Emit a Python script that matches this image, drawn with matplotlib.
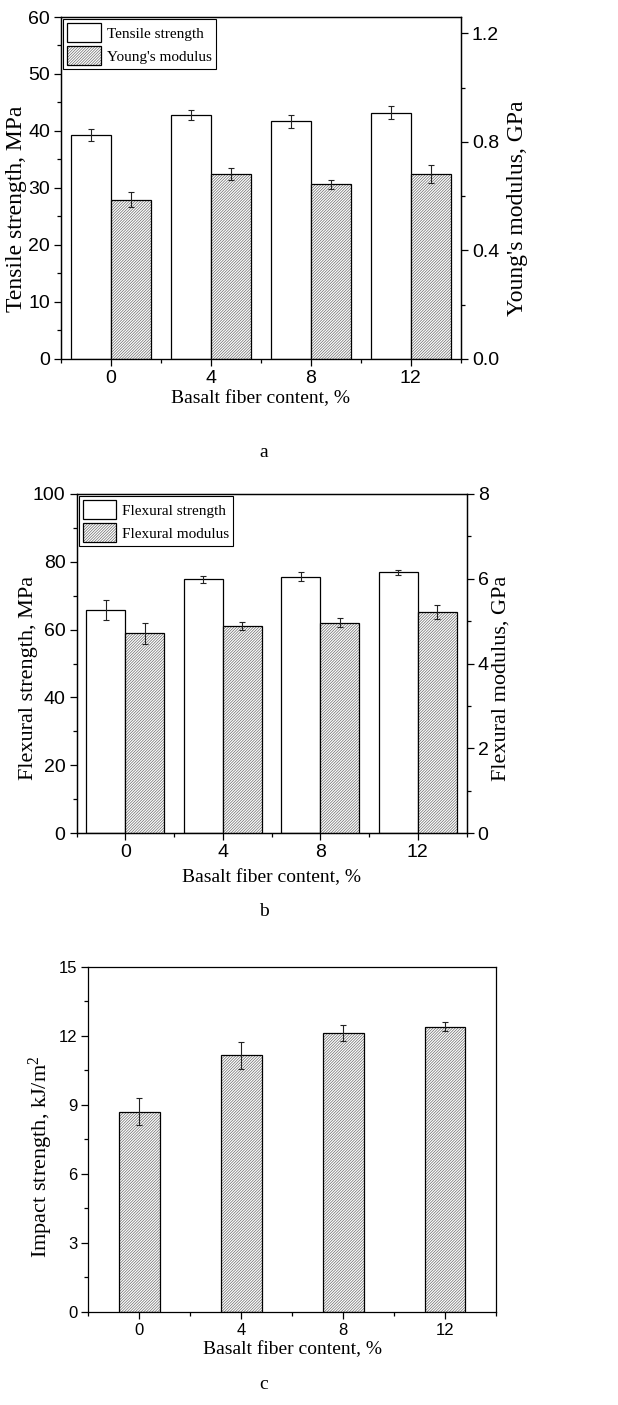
import matplotlib
matplotlib.use('Agg')
import matplotlib.pyplot as plt
from matplotlib.patches import Patch
from matplotlib.ticker import MultipleLocator, FormatStrFormatter

# basalt fiber content, %
fiber = [0, 4, 8, 12]

# panel a
tensile = [39.3, 42.8, 41.7, 43.2]
tensile_err = [1.0, 0.95, 1.1, 1.1]
young = [0.587, 0.681, 0.644, 0.681]
young_err = [0.028, 0.021, 0.017, 0.032]

# panel b
flex_strength = [65.8, 74.8, 75.6, 76.9]
flex_strength_err = [3.0, 1.1, 1.3, 0.7]
flex_modulus = [4.71, 4.89, 4.96, 5.22]
flex_modulus_err = [0.25, 0.10, 0.11, 0.17]

# panel c
impact = [8.7, 11.15, 12.12, 12.4]
impact_err = [0.59, 0.58, 0.36, 0.2]

SERIF = 'Liberation Serif'
SANS = 'Liberation Sans'
HATCH = '////////////'
HATCH_COLOR = '#6a6a6a'
BAR_W = 1.6

plt.rcParams['font.family'] = SANS
plt.rcParams['hatch.linewidth'] = 0.5
plt.rcParams['axes.linewidth'] = 0.9


def plain_bars(ax, x, y, err):
    ax.bar(x, y, BAR_W, color='white', edgecolor='black', linewidth=0.9, zorder=2)
    ax.errorbar(x, y, yerr=err, fmt='none', ecolor='#222222',
                elinewidth=0.8, capsize=2.5, capthick=0.8, zorder=3)


def hatched_bars(ax, x, y, err):
    # hatch in gray, outline in black drawn on top
    ax.bar(x, y, BAR_W, color='white', edgecolor=HATCH_COLOR, linewidth=0,
           hatch=HATCH, zorder=2)
    ax.bar(x, y, BAR_W, fill=False, edgecolor='black', linewidth=0.9, zorder=2.5)
    ax.errorbar(x, y, yerr=err, fmt='none', ecolor='#222222',
                elinewidth=0.8, capsize=2.5, capthick=0.8, zorder=3)


def style_ticks(ax, size):
    ax.tick_params(which='major', direction='out', length=5, width=0.9,
                   labelsize=size, pad=3)
    ax.tick_params(which='minor', direction='out', length=3, width=0.9)


def hatched_handle():
    return (Patch(facecolor='white', edgecolor=HATCH_COLOR, linewidth=0, hatch=HATCH),
            Patch(fill=False, edgecolor='black', linewidth=0.9))


def add_legend(ax, labels):
    handles = [Patch(facecolor='white', edgecolor='black', linewidth=0.9),
               hatched_handle()]
    leg = ax.legend(handles, labels, loc='upper left', prop={'family': SERIF, 'size': 11},
                    fancybox=False, edgecolor='black', framealpha=1,
                    borderaxespad=0.15, borderpad=0.25, handlelength=2.2,
                    handleheight=1.55, handletextpad=0.4, labelspacing=0.25)
    leg.get_frame().set_linewidth(0.8)
    leg.set_zorder(5)


def xaxis_setup(ax):
    ax.set_xlim(-2, 14)
    ax.set_xticks(fiber)
    ax.xaxis.set_minor_locator(MultipleLocator(2))
    ax.set_xlabel('Basalt fiber content, %', family=SERIF, fontsize=14)


fig = plt.figure(figsize=(6.18, 14.05), dpi=100)

# ---- panel a ----
ax = fig.add_axes([0.0987, 0.7445, 0.647, 0.2434])
left = [f - BAR_W / 2 for f in fiber]
right = [f + BAR_W / 2 for f in fiber]
plain_bars(ax, left, tensile, tensile_err)
ax.set_ylim(0, 60)
ax.yaxis.set_major_locator(MultipleLocator(10))
ax.yaxis.set_minor_locator(MultipleLocator(5))
xaxis_setup(ax)
style_ticks(ax, 14)
ax.set_ylabel('Tensile strength, MPa', family=SERIF, fontsize=17)
ax.yaxis.set_label_coords(-0.085, 0.44)
ax.xaxis.set_label_coords(0.5, -0.09)
ax.spines['bottom'].set_color('#888888')
ax2 = ax.twinx()
hatched_bars(ax2, right, young, young_err)
ax2.set_ylim(0, 1.26)
ax2.yaxis.set_major_locator(MultipleLocator(0.4))
ax2.yaxis.set_minor_locator(MultipleLocator(0.2))
ax2.yaxis.set_major_formatter(FormatStrFormatter('%.1f'))
style_ticks(ax2, 14)
ax2.set_ylabel("Young's modulus, GPa", family=SERIF, fontsize=17)
ax2.yaxis.set_label_coords(1.115, 0.44)
add_legend(ax2, ['Tensile strength', "Young's modulus"])
fig.text(0.427, 0.678, 'a', family=SERIF, fontsize=14, ha='center', va='center')

# ---- panel b ----
ax = fig.add_axes([0.124, 0.4071, 0.631, 0.2413])
plain_bars(ax, left, flex_strength, flex_strength_err)
ax.set_ylim(0, 100)
ax.yaxis.set_major_locator(MultipleLocator(20))
ax.yaxis.set_minor_locator(MultipleLocator(10))
xaxis_setup(ax)
style_ticks(ax, 14)
ax.set_ylabel('Flexural strength, MPa', family=SERIF, fontsize=16)
ax.yaxis.set_label_coords(-0.1, 0.456)
ax.xaxis.set_label_coords(0.5, -0.105)
ax2 = ax.twinx()
hatched_bars(ax2, right, flex_modulus, flex_modulus_err)
ax2.set_ylim(0, 8)
ax2.yaxis.set_major_locator(MultipleLocator(2))
ax2.yaxis.set_minor_locator(MultipleLocator(1))
style_ticks(ax2, 14)
ax2.set_ylabel('Flexural modulus, GPa', family=SERIF, fontsize=16)
ax2.yaxis.set_label_coords(1.065, 0.456)
add_legend(ax2, ['Flexural strength', 'Flexural modulus'])
fig.text(0.427, 0.351, 'b', family=SERIF, fontsize=14, ha='center', va='center')

# ---- panel c ----
ax = fig.add_axes([0.1429, 0.0662, 0.6597, 0.2456])
hatched_bars(ax, fiber, impact, impact_err)
ax.set_ylim(0, 15)
ax.yaxis.set_major_locator(MultipleLocator(3))
ax.yaxis.set_minor_locator(MultipleLocator(1.5))
xaxis_setup(ax)
style_ticks(ax, 12)
ax.set_ylabel(r'Impact strength, kJ/m$\mathregular{^2}$', family=SERIF, fontsize=16)
ax.yaxis.set_label_coords(-0.082, 0.45)
ax.xaxis.set_label_coords(0.5, -0.085)
fig.text(0.427, 0.0145, 'c', family=SERIF, fontsize=14, ha='center', va='center')

fig.savefig('out.png', dpi=100)
